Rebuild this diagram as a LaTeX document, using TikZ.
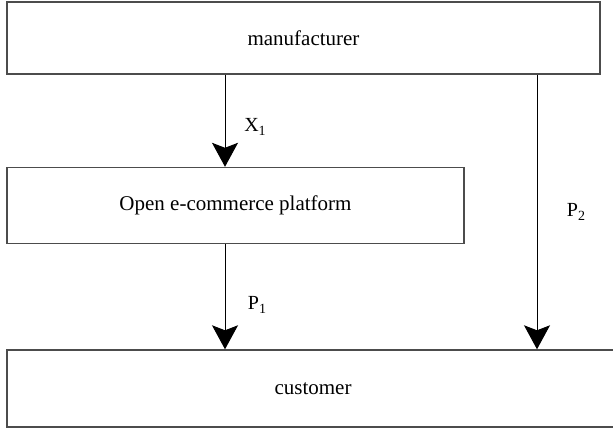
\documentclass[tikz,border=0pt]{standalone}
\usepackage{fontspec}
\setmainfont{Liberation Serif}
\usetikzlibrary{arrows.meta}
\newcommand{\mysub}[1]{\raisebox{-0.45ex}{\fontsize{14}{14}\selectfont #1}}
\begin{document}
\begin{tikzpicture}[x=1pt,y=-1pt,
  boxstyle/.style={draw=black!70,line width=1.4pt,inner sep=0pt,font=\fontsize{21}{24}\selectfont},
  flow/.style={draw=black,line width=1pt,-{Stealth[length=24pt,width=26pt,inset=5pt]}},
  lbl/.style={font=\fontsize{20}{22}\selectfont,inner sep=0pt}]
\useasboundingbox (0,0) rectangle (613,430);
\begin{scope}
\clip (0,0) rectangle (613,430);
\node[boxstyle,minimum width=593pt,minimum height=72pt] (top) at (303.5,38) {manufacturer};
\node[boxstyle,minimum width=457pt,minimum height=76pt] (mid) at (235.5,205.5) {Open e-commerce platform};
\node[boxstyle,minimum width=612pt,minimum height=77pt] (bot) at (313,388.5) {customer};
\end{scope}
\coordinate (c1) at (225,0);
\coordinate (c2) at (537,0);
\draw[flow] (top.south -| c1) -- (mid.north -| c1);
\draw[flow] (mid.south -| c1) -- (bot.north -| c1);
\draw[flow] (top.south -| c2) -- (bot.north -| c2);
\node[lbl] (x1) at (255,127) {X\mysub{1}};
\node[lbl] (p1) at (257,305) {P\mysub{1}};
\node[lbl] (p2) at (576,212) {P\mysub{2}};
\end{tikzpicture}
\end{document}
